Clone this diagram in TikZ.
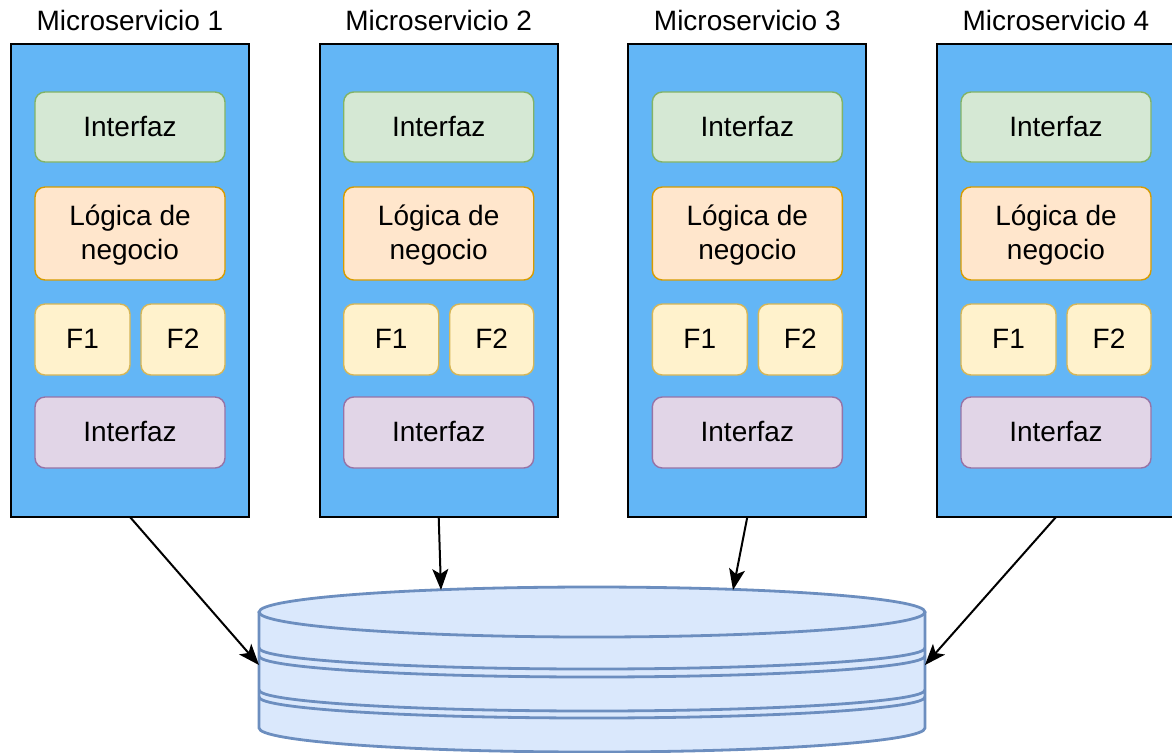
\documentclass[tikz,border=0pt]{standalone}
\usepackage{fontspec}
\setmainfont{Liberation Sans}
\usetikzlibrary{positioning,arrows.meta}

\definecolor{msblue}{HTML}{63B6F6}
\definecolor{uifill}{HTML}{D5E8D4}
\definecolor{uiline}{HTML}{82B366}
\definecolor{lgfill}{HTML}{FFE6CC}
\definecolor{lgline}{HTML}{D79B00}
\definecolor{fnfill}{HTML}{FFF2CC}
\definecolor{fnline}{HTML}{D6B656}
\definecolor{iofill}{HTML}{E1D5E7}
\definecolor{ioline}{HTML}{9673A6}
\definecolor{dbfill}{HTML}{DAE8FC}
\definecolor{dbline}{HTML}{6C8EBF}

\tikzset{
  txt/.style={font=\fontsize{14pt}{17pt}\selectfont},
  service/.style={draw=black, line width=1pt, fill=msblue, minimum width=119pt,
    minimum height=236.5pt, inner sep=0pt, outer sep=0pt},
  layer/.style={txt, rounded corners=5pt, line width=0.7pt, minimum width=95pt,
    minimum height=35pt, inner sep=0pt, outer sep=0pt, align=center, text depth=1pt},
  uibox/.style={layer, draw=uiline, fill=uifill},
  lgbox/.style={layer, draw=lgline, fill=lgfill, minimum height=46.5pt},
  fnbox/.style={layer, draw=fnline, fill=fnfill, minimum height=35.5pt},
  iobox/.style={layer, draw=ioline, fill=iofill, minimum height=35.5pt},
  flow/.style={line width=1pt, -{Stealth[length=10.5pt, width=8pt, inset=2.5pt]}},
  disk/.style={draw=dbline, line width=1.4pt}
}

\begin{document}
\begin{tikzpicture}[x=0.5pt, y=-0.5pt]
    \clip (0,0) rectangle (1172,752);

    % microservicios
    \foreach \i/\cx in {1/130, 2/438.7, 3/747.3, 4/1056} {
        \node[service] (ms\i) at (\cx, 280.5) {};
        \node[txt, inner sep=0pt, above=6.5pt of ms\i] (title\i) {Microservicio \i};
        \node[uibox, below=24pt of ms\i.north] (ui\i) {Interfaz};
        \node[lgbox, below=12.5pt of ui\i] (lg\i) {Lógica de\\negocio};
        \node[fnbox, minimum width=47.5pt, below right=12pt and 0pt of lg\i.south west] (fa\i) {F1};
        \node[fnbox, minimum width=42pt, below left=12pt and 0pt of lg\i.south east] (fb\i) {F2};
        \node[iobox, below=58.5pt of lg\i] (io\i) {Interfaz};
    }

    % base de datos
    \fill[dbfill] (259,612) -- (259,728) arc[start angle=180, end angle=0, x radius=333, y radius=24] -- (925,612) -- cycle;
    \draw[disk] (259,612) -- (259,728) arc[start angle=180, end angle=0, x radius=333, y radius=24] -- (925,612);
    \draw[disk, fill=dbfill] (592,612) circle [x radius=333, y radius=25];
    \draw[disk] (259,648) arc[start angle=180, end angle=0, x radius=333, y radius=21];
    \draw[disk] (259,656) arc[start angle=180, end angle=0, x radius=333, y radius=21];
    \draw[disk] (259,690) arc[start angle=180, end angle=0, x radius=333, y radius=21];
    \draw[disk] (259,697) arc[start angle=180, end angle=0, x radius=333, y radius=21];

    \coordinate (db-w) at (259,665);
    \coordinate (db-e) at (925,665);
    \coordinate (db-n2) at (441,590);
    \coordinate (db-n3) at (733,590);

    \draw[flow] (ms1.south) -- (db-w);
    \draw[flow] (ms2.south) -- (db-n2);
    \draw[flow] (ms3.south) -- (db-n3);
    \draw[flow] (ms4.south) -- (db-e);
\end{tikzpicture}
\end{document}
